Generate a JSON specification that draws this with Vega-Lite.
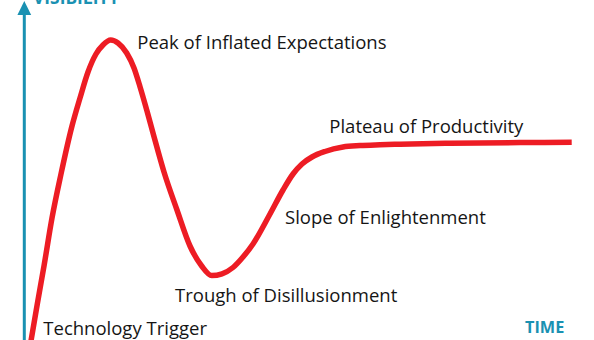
{
  "$schema": "https://vega.github.io/schema/vega-lite/v6.json",
  "width": 594,
  "height": 340,
  "autosize": {"type": "none"},
  "padding": 0,
  "background": "white",
  "config": {"view": {"stroke": null}},
  "datasets": {
    "curve": [
      {"time": 30.3, "visibility": -5},
      {"time": 37.3, "visibility": 36},
      {"time": 44, "visibility": 74},
      {"time": 52, "visibility": 122},
      {"time": 61, "visibility": 166},
      {"time": 72, "visibility": 214},
      {"time": 80, "visibility": 242},
      {"time": 88, "visibility": 268},
      {"time": 96, "visibility": 286},
      {"time": 103, "visibility": 295},
      {"time": 110.7, "visibility": 300},
      {"time": 118, "visibility": 297},
      {"time": 126.7, "visibility": 287},
      {"time": 134, "visibility": 272},
      {"time": 140, "visibility": 253.3},
      {"time": 147, "visibility": 229},
      {"time": 153, "visibility": 207},
      {"time": 164, "visibility": 168},
      {"time": 177, "visibility": 130},
      {"time": 190, "visibility": 94},
      {"time": 201.7, "visibility": 74},
      {"time": 211.7, "visibility": 64.5},
      {"time": 222, "visibility": 66.2},
      {"time": 233, "visibility": 72.5},
      {"time": 243, "visibility": 83},
      {"time": 253, "visibility": 96},
      {"time": 270, "visibility": 126},
      {"time": 283, "visibility": 150},
      {"time": 293, "visibility": 166},
      {"time": 302, "visibility": 176},
      {"time": 312, "visibility": 183},
      {"time": 325, "visibility": 188.5},
      {"time": 343, "visibility": 193},
      {"time": 360, "visibility": 194.4},
      {"time": 380, "visibility": 195.2},
      {"time": 400, "visibility": 195.8},
      {"time": 450, "visibility": 196.8},
      {"time": 520, "visibility": 197.4},
      {"time": 571.7, "visibility": 197.7}
    ],
    "phases": [
      {"label": "Peak of Inflated Expectations", "time": 137.3, "visibility": 290.7},
      {"label": "Plateau of Productivity", "time": 329.3, "visibility": 207.3},
      {"label": "Slope of Enlightenment", "time": 285, "visibility": 116.3},
      {"label": "Trough of Disillusionment", "time": 175, "visibility": 38},
      {"label": "Technology Trigger", "time": 43.3, "visibility": 5}
    ],
    "timeLabel": [
      {"label": "TIME", "time": 525, "visibility": 7.3}
    ],
    "visLabel": [
      {"label": "VISIBILITY", "time": 33, "visibility": 336}
    ],
    "axisLine": [
      {"time": 24.3, "visibility": -10, "visibility2": 326}
    ],
    "arrow": [
      {"time": 24.3, "visibility": 332}
    ]
  },
  "layer": [
    {
      "data": {"name": "axisLine"},
      "mark": {"type": "rule", "color": "#1a91b2", "strokeWidth": 3},
      "encoding": {
        "x": {"field": "time", "type": "quantitative", "scale": {"domain": [0, 594], "nice": false, "zero": false}, "axis": null},
        "y": {"field": "visibility", "type": "quantitative", "scale": {"domain": [0, 340], "nice": false, "zero": false}, "axis": null},
        "y2": {"field": "visibility2"}
      }
    },
    {
      "data": {"name": "arrow"},
      "mark": {"type": "point", "shape": "M0,-1L-1,1L1,1Z", "filled": true, "color": "#1a91b2", "size": 190, "opacity": 1},
      "encoding": {
        "x": {"field": "time", "type": "quantitative"},
        "y": {"field": "visibility", "type": "quantitative"}
      }
    },
    {
      "data": {"name": "curve"},
      "mark": {"type": "line", "color": "#ed1c24", "strokeWidth": 5.5, "interpolate": "monotone", "strokeCap": "butt", "clip": true},
      "encoding": {
        "x": {"field": "time", "type": "quantitative"},
        "y": {"field": "visibility", "type": "quantitative"},
        "order": {"field": "time", "type": "quantitative"}
      }
    },
    {
      "data": {"name": "phases"},
      "mark": {"type": "text", "align": "left", "baseline": "alphabetic", "font": "Open Sans", "fontSize": 18.5, "color": "#151515"},
      "encoding": {
        "x": {"field": "time", "type": "quantitative"},
        "y": {"field": "visibility", "type": "quantitative"},
        "text": {"field": "label"}
      }
    },
    {
      "data": {"name": "timeLabel"},
      "mark": {"type": "text", "align": "left", "baseline": "alphabetic", "font": "Open Sans", "fontSize": 16.3, "fontWeight": "bold", "color": "#1a91b2"},
      "encoding": {
        "x": {"field": "time", "type": "quantitative"},
        "y": {"field": "visibility", "type": "quantitative"},
        "text": {"field": "label"}
      }
    },
    {
      "data": {"name": "visLabel"},
      "mark": {"type": "text", "align": "left", "baseline": "alphabetic", "font": "Open Sans", "fontSize": 17.4, "fontWeight": "bold", "color": "#1a91b2"},
      "encoding": {
        "x": {"field": "time", "type": "quantitative"},
        "y": {"field": "visibility", "type": "quantitative"},
        "text": {"field": "label"}
      }
    }
  ]
}
